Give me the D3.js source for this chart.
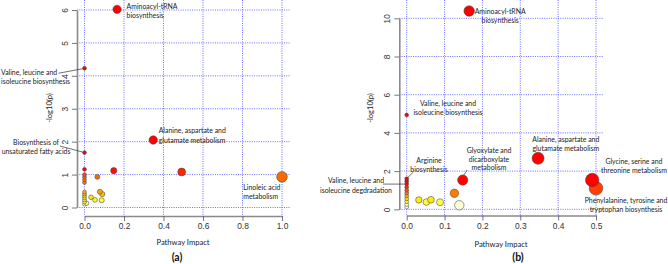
<!DOCTYPE html>
<html><head><meta charset="utf-8">
<script src="https://cdn.jsdelivr.net/npm/d3@7"></script>
<style>
html,body{margin:0;padding:0;background:#fff;}
svg{display:block;}
</style></head>
<body>
<svg id="chart" width="668" height="264"></svg>
<script>
// ---------------- DATA ----------------
// Panel (a)
const namesA  = ["Aminoacyl-tRNA biosynthesis","Valine, leucine and isoleucine biosynthesis","Biosynthesis of unsaturated fatty acids","Alanine, aspartate and glutamate metabolism","Linoleic acid metabolism","","","","","","","","","","","","","","","","","","","","",""];
const impactA = [0.165, 0, 0, 0.348, 1.0, 0, 0.148, 0.492, 0.065, 0, 0, 0, 0, 0.078, 0.09, 0.033, 0.053, 0.087, 0.011, 0, 0, 0, 0, 0, 0, 0];
const logpA   = [6.02, 4.23, 1.67, 2.05, 0.93, 1.16, 1.12, 1.08, 0.93, 1.0, 0.92, 0.84, 0.76, 0.48, 0.41, 0.31, 0.23, 0.22, 0.13, 0.47, 0.41, 0.35, 0.29, 0.23, 0.17, 0.1];
const xTicksA = [0, 0.2, 0.4, 0.6, 0.8, 1.0];
const yTicksA = [0, 1, 2, 3, 4, 5, 6];

// Panel (b)
const namesB  = ["Aminoacyl-tRNA biosynthesis","Valine, leucine and isoleucine biosynthesis","Arginine biosynthesis","Valine, leucine and isoleucine degdradation","Glyoxylate and dicarboxylate metabolism","Alanine, aspartate and glutamate metabolism","Glycine, serine and threonine metabolism","Phenylalanine, tyrosine and tryptophan biosynthesis","","","","","","","","","","","","","",""];
const impactB = [0.165, 0, 0, 0, 0.148, 0.347, 0.49, 0.5, 0.126, 0.139, 0.032, 0.052, 0.064, 0.088, 0, 0, 0, 0, 0, 0, 0, 0];
const logpB   = [10.38, 4.94, 1.6, 1.32, 1.53, 2.67, 1.53, 1.1, 0.84, 0.21, 0.49, 0.38, 0.5, 0.37, 1.46, 1.16, 1.0, 0.85, 0.7, 0.55, 0.4, 0.25];
const zeroExtraB = [0.12];
const xTicksB = [0, 0.1, 0.2, 0.3, 0.4, 0.5];
const yTicksB = [0, 2, 4, 6, 8, 10];

// ---------------- DRAW ----------------
const svg = d3.select("#chart");
const LABEL_FONT = "Lato, 'Open Sans', sans-serif";
const TICK_FONT = "'Liberation Sans', Arial, sans-serif";

function panel(cfg) {
  const g = svg.append("g");
  const x = d3.scaleLinear().domain(cfg.xDomain).range(cfg.xRange);
  const y = d3.scaleLinear().domain(cfg.yDomain).range(cfg.yRange);
  const [gx0, gx1] = cfg.gridX, [gy0, gy1] = cfg.gridY;

  // grid
  const grid = g.append("g").attr("stroke", "#5555ff").attr("stroke-width", 1)
    .attr("stroke-dasharray", "1,1.3").attr("opacity", 0.85);
  grid.selectAll("line.v").data(cfg.xTicks).join("line")
    .attr("x1", d => x(d)).attr("x2", d => x(d)).attr("y1", gy0).attr("y2", gy1);
  grid.selectAll("line.h").data(cfg.yTicks).join("line")
    .attr("y1", d => y(d)).attr("y2", d => y(d)).attr("x1", gx0).attr("x2", gx1);

  // axes
  const yAx = g.append("g").attr("transform", `translate(${cfg.yAxisX},0)`)
    .call(d3.axisLeft(y).tickValues(cfg.yTicks).tickFormat(d3.format("d")).tickSize(5).tickSizeOuter(0));
  const xAx = g.append("g").attr("transform", `translate(0,${cfg.xAxisY})`)
    .call(d3.axisBottom(x).tickValues(cfg.xTicks).tickFormat(d3.format(".1f")).tickSize(5).tickSizeOuter(0));
  [yAx, xAx].forEach(a => {
    a.select(".domain").attr("stroke", "#8a8a8a").attr("stroke-width", 1.6);
    a.selectAll(".tick line").attr("stroke", "#555").attr("stroke-width", 0.8);
    a.selectAll(".tick text").attr("fill", "#333").style("font-family", TICK_FONT).style("font-size", "8.4px");
  });
  yAx.selectAll(".tick text").attr("x", 0).attr("dy", 0).attr("text-anchor", "middle")
    .attr("transform", "translate(-9.5,0) rotate(-90)");
  xAx.selectAll(".tick text").attr("y", 7.5).attr("dy", "0.71em");

  // axis titles
  g.append("text").attr("transform", `translate(${cfg.ylabX},${cfg.ylabY}) rotate(-90)`)
    .attr("text-anchor", "middle").style("font-family", LABEL_FONT).style("font-size", "7.6px").attr("fill", "#222")
    .text("-log10(p)");
  g.append("text").attr("x", cfg.xlabX).attr("y", cfg.xlabY).attr("text-anchor", "middle")
    .style("font-family", LABEL_FONT).style("font-size", "7.6px").attr("fill", "#222").text("Pathway Impact");
  g.append("text").attr("x", cfg.tagX).attr("y", 261).attr("text-anchor", "middle")
    .style("font-family", LABEL_FONT).style("font-size", "10.5px").style("font-weight", "bold").attr("fill", "#111")
    .text(cfg.tag);

  // points
  const pts = cfg.impact.map((v, i) => ({ name: cfg.names[i] || "", impact: v, logp: cfg.logp[i] }));
  pts.sort((a, b) => a.logp - b.logp);
  g.append("g").selectAll("circle").data(pts).join("circle")
    .attr("cx", d => x(d.impact)).attr("cy", d => y(d.logp))
    .attr("r", d => cfg.size(d.impact))
    .attr("fill", d => cfg.color(d.logp))
    .attr("stroke", "#444").attr("stroke-width", 0.55);

  // annotations
  const byName = {};
  pts.forEach(p => { if (p.name) byName[p.name] = p; });
  const ann = g.append("g").style("font-family", LABEL_FONT).style("font-size", "6.9px").attr("fill", "#222");
  cfg.annotations.forEach(a => {
    const p = byName[a.name];
    const px = x(p.impact), py = y(p.logp);
    if (a.line) {
      ann.append("line").attr("x1", px + a.line[0]).attr("y1", py + a.line[1])
        .attr("x2", px + a.line[2]).attr("y2", py + a.line[3])
        .attr("stroke", "#333").attr("stroke-width", 0.7);
    }
    const t = ann.append("text").attr("text-anchor", a.anchor);
    a.lines.forEach((ln, k) => {
      t.append("tspan").attr("x", px + a.dx).attr("y", py + a.dy + k * a.lh).text(ln);
    });
  });
}

panel({
  names: namesA, impact: impactA, logp: logpA,
  xDomain: [0, 1], xRange: [84.5, 282], yDomain: [0, 6], yRange: [207.5, 10],
  xTicks: xTicksA, yTicks: yTicksA,
  gridX: [77, 290], gridY: [0, 216],
  yAxisX: 77, xAxisY: 216,
  ylabX: 52, ylabY: 108, xlabX: 183, xlabY: 245, tagX: 177, tag: "(a)",
  size: d3.scaleLinear().domain([0, 0.01, 0.09, 0.15, 0.17, 0.35, 0.5, 1]).range([1.9, 2.2, 2.6, 3.1, 4.5, 4.2, 3.9, 5.3]).clamp(true),
  color: d3.scaleLinear().domain([0.05, 0.2, 0.35, 0.5, 0.95, 1.15]).range(["#ffffcc", "#ffff33", "#ffdd00", "#ff9900", "#ff6600", "#ff0000"]).clamp(true),
  annotations: [
    { name: "Aminoacyl-tRNA biosynthesis", lines: ["Aminoacyl-tRNA", "biosynthesis"], anchor: "start", dx: 9.5, dy: -0.8, lh: 9 },
    { name: "Valine, leucine and isoleucine biosynthesis", lines: ["Valine, leucine and", "isoleucine biosynthesis"], anchor: "start", dx: -83.5, dy: 6.5, lh: 9, line: [-26, 5, -2, 0.5] },
    { name: "Biosynthesis of unsaturated fatty acids", lines: ["Biosynthesis of", "unsaturated fatty acids"], anchor: "middle", dx: -48.5, dy: -7.5, lh: 9, line: [-24.5, -6.5, -2, -0.5] },
    { name: "Alanine, aspartate and glutamate metabolism", lines: ["Alanine, aspartate and", "glutamate metabolism"], anchor: "start", dx: 5.5, dy: -6.8, lh: 9.3 },
    { name: "Linoleic acid metabolism", lines: ["Linoleic acid", "metabolism"], anchor: "start", dx: -38.7, dy: 13, lh: 8.7 }
  ]
});

panel({
  names: namesB, impact: impactB.concat(zeroExtraB.map(() => 0)), logp: logpB.concat(zeroExtraB),
  xDomain: [0, 0.5], xRange: [406.7, 596], yDomain: [0, 10], yRange: [209.3, 18.3],
  xTicks: xTicksB, yTicks: yTicksB,
  gridX: [399.3, 603], gridY: [0, 215.5],
  yAxisX: 399.3, xAxisY: 215.5,
  ylabX: 373, ylabY: 108, xlabX: 501, xlabY: 247, tagX: 518, tag: "(b)",
  size: d3.scaleLinear().domain([0, 0.03, 0.09, 0.13, 0.15, 0.35, 0.5]).range([1.9, 3.2, 3.5, 4.3, 5.2, 6, 6.8]).clamp(true),
  color: d3.scaleLinear().domain([0.1, 0.25, 0.4, 0.55, 0.85, 1.1, 1.35]).range(["#ffffff", "#ffffcc", "#ffff22", "#ffe000", "#ff7700", "#ff4000", "#ff0000"]).clamp(true),
  annotations: [
    { name: "Aminoacyl-tRNA biosynthesis", lines: ["Aminoacyl-tRNA", "biosynthesis"], anchor: "middle", dx: 31, dy: 2.5, lh: 9.5 },
    { name: "Valine, leucine and isoleucine biosynthesis", lines: ["Valine, leucine and", "isoleucine biosynthesis"], anchor: "middle", dx: 41.3, dy: -8.5, lh: 9 },
    { name: "Arginine biosynthesis", lines: ["Arginine", "biosynthesis"], anchor: "middle", dx: 22.3, dy: -16.2, lh: 9.4, line: [6.3, -6.5, 0.5, -0.5] },
    { name: "Valine, leucine and isoleucine degdradation", lines: ["Valine, leucine and", "isoleucine degdradation"], anchor: "middle", dx: -50.7, dy: -0.8, lh: 9.3, line: [-23.7, 0, -1.7, 0] },
    { name: "Glyoxylate and dicarboxylate metabolism", lines: ["Glyoxylate and", "dicarboxylate", "metabolism"], anchor: "middle", dx: 26.3, dy: -27, lh: 8.7, line: [4.5, -10, 1, -5] },
    { name: "Alanine, aspartate and glutamate metabolism", lines: ["Alanine, aspartate and", "glutamate metabolism"], anchor: "middle", dx: 27.7, dy: -16.8, lh: 9.3 },
    { name: "Glycine, serine and threonine metabolism", lines: ["Glycine, serine and", "threonine metabolism"], anchor: "middle", dx: 41.7, dy: -15.8, lh: 9 },
    { name: "Phenylalanine, tyrosine and tryptophan biosynthesis", lines: ["Phenylalanine, tyrosine and", "tryptophan biosynthesis"], anchor: "middle", dx: 30, dy: 15.2, lh: 9 }
  ]
});
</script>
</body></html>
